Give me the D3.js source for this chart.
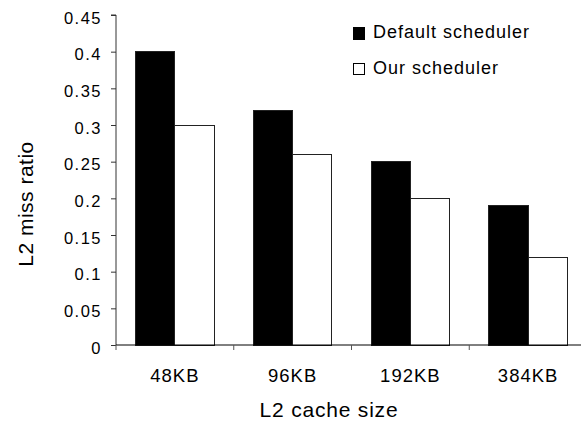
<!DOCTYPE html>
<html>
<head>
<meta charset="utf-8">
<script src="https://cdn.jsdelivr.net/npm/d3@7"></script>
<style>
  body { margin: 0; background: #fff; }
  svg { display: block; font-family: "Liberation Sans", Arial, sans-serif; }
</style>
</head>
<body>
<svg width="581" height="421"></svg>
<script>
const categories = ["48KB", "96KB", "192KB", "384KB"];
const seriesNames = ["Default scheduler", "Our scheduler"];
const defaultVals = [0.4, 0.32, 0.25, 0.19];
const ourVals = [0.3, 0.26, 0.2, 0.12];
const yTicks = [0, 0.05, 0.1, 0.15, 0.2, 0.25, 0.3, 0.35, 0.4, 0.45];

const svg = d3.select("svg");

const x = d3.scaleBand()
  .domain(categories)
  .range([116, 587]);

const xs = d3.scaleBand()
  .domain(seriesNames)
  .range([0, x.bandwidth()])
  .paddingOuter(0.5);

const y = d3.scaleLinear()
  .domain([0, 0.45])
  .range([345, 15]);

const fills = { "Default scheduler": "#000", "Our scheduler": "#fff" };

const rows = categories.map((c, i) => ({
  cat: c,
  vals: [
    { name: seriesNames[0], v: defaultVals[i] },
    { name: seriesNames[1], v: ourVals[i] }
  ]
}));

// bars
svg.selectAll(".grp")
  .data(rows)
  .enter().append("g")
  .attr("class", "grp")
  .attr("transform", d => `translate(${x(d.cat)},0)`)
  .selectAll("rect")
  .data(d => d.vals)
  .enter().append("rect")
  .attr("x", d => xs(d.name))
  .attr("y", d => y(d.v))
  .attr("width", xs.bandwidth())
  .attr("height", d => y(0) - y(d.v))
  .attr("fill", d => fills[d.name])
  .attr("stroke", "#222")
  .attr("stroke-width", 1)
  .attr("shape-rendering", "crispEdges");

// y axis
const yAxis = svg.append("g")
  .attr("transform", "translate(116,0)")
  .call(d3.axisLeft(y).tickValues(yTicks).tickSize(5).tickPadding(9)
    .tickFormat(d => d3.format("")(+d.toFixed(2))));
yAxis.select(".domain").attr("stroke", "#333").attr("d", "M-5,15H0V345");
yAxis.selectAll(".tick line").attr("stroke", "#333");
yAxis.selectAll(".tick text")
  .attr("font-size", "16.5px")
  .attr("letter-spacing", "1.5px")
  .attr("dy", "0.5em")
  .attr("fill", "#000");
yAxis.attr("font-family", null);

// x axis: ticks at category boundaries
const xAxis = svg.append("g")
  .attr("transform", "translate(0,345)");
xAxis.append("line")
  .attr("x1", 116).attr("x2", 587)
  .attr("y1", 0).attr("y2", 0)
  .attr("stroke", "#000");
xAxis.selectAll(".xtick")
  .data(categories)
  .enter().append("line")
  .attr("class", "xtick")
  .attr("x1", d => x(d)).attr("x2", d => x(d))
  .attr("y1", 0).attr("y2", 5)
  .attr("stroke", "#555");
xAxis.selectAll(".xlabel")
  .data(categories)
  .enter().append("text")
  .attr("class", "xlabel")
  .attr("x", d => x(d) + x.bandwidth() / 2)
  .attr("y", 36.5)
  .attr("text-anchor", "middle")
  .attr("font-size", "18.5px")
  .attr("letter-spacing", "1px")
  .text(d => d);

// axis titles
svg.append("text")
  .attr("transform", "translate(32.5,204) rotate(-90)")
  .attr("text-anchor", "middle")
  .attr("font-size", "21px")
  .attr("letter-spacing", "0.5px")
  .text("L2 miss ratio");

svg.append("text")
  .attr("x", 329)
  .attr("y", 416.5)
  .attr("text-anchor", "middle")
  .attr("font-size", "21px")
  .attr("letter-spacing", "0.8px")
  .text("L2 cache size");

// legend
const legend = svg.selectAll(".legend")
  .data(seriesNames)
  .enter().append("g")
  .attr("class", "legend")
  .attr("transform", (d, i) => `translate(353,${27.5 + i * 35.5})`);
legend.append("rect")
  .attr("width", 11.5).attr("height", 11.5)
  .attr("fill", d => fills[d])
  .attr("stroke", "#000")
  .attr("shape-rendering", "crispEdges");
legend.append("text")
  .attr("x", 20)
  .attr("y", 10.5)
  .attr("font-size", "18px")
  .attr("letter-spacing", "1px")
  .text(d => d);
</script>
</body>
</html>
